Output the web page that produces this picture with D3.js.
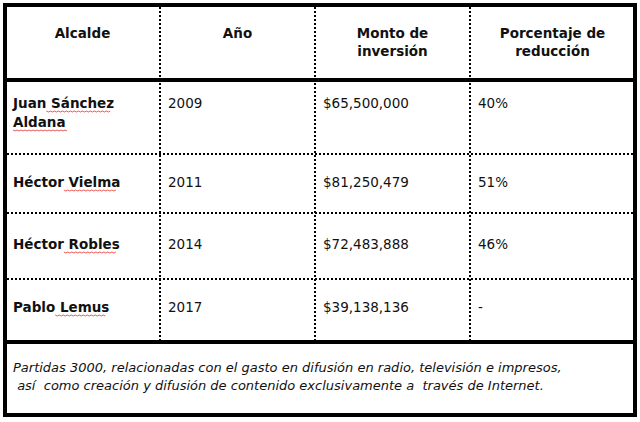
<!DOCTYPE html>
<html lang="es">
<head>
<meta charset="UTF-8">
<script src="https://d3js.org/d3.v7.min.js"></script>
<style>
  body { margin: 0; background: #fff; }
  text { font-family: "DejaVu Sans", Verdana, sans-serif; fill: #111; }
</style>
</head>
<body>
<svg width="640" height="422"></svg>
<script>
const headers = [["Alcalde"], ["Año"], ["Monto de", "inversión"], ["Porcentaje de", "reducción"]];
const alcaldes = [["Juan Sánchez", "Aldana"], ["Héctor Vielma"], ["Héctor Robles"], ["Pablo Lemus"]];
const anios = ["2009", "2011", "2014", "2017"];
const montos = ["$65,500,000", "$81,250,479", "$72,483,888", "$39,138,136"];
const reducciones = ["40%", "51%", "46%", "-"];
const nota = ["Partidas 3000, relacionadas con el gasto en difusión en radio, televisión e impresos,",
              " así  como creación y difusión de contenido exclusivamente a  través de Internet."];
const squiggles = [["Sánchez", "Aldana"], ["Vielma"], ["Robles"], ["Lemus"]];

const svg = d3.select("svg");
const colEdges = [5, 160, 315, 470, 635];
const rowEdges = [5, 80, 154, 213, 279, 342];
const noteBottom = 415;

// outer frame & separators
svg.append("rect").attr("x", 5).attr("y", 5).attr("width", 630).attr("height", noteBottom - 5)
  .attr("fill", "none").attr("stroke", "#000").attr("stroke-width", 4);
[rowEdges[1], rowEdges[5]].forEach(y => svg.append("line").attr("x1", 5).attr("x2", 635)
  .attr("y1", y).attr("y2", y).attr("stroke", "#000").attr("stroke-width", 4));
rowEdges.slice(2, 5).forEach(y => svg.append("line").attr("x1", 7).attr("x2", 633)
  .attr("y1", y).attr("y2", y).attr("stroke", "#000").attr("stroke-width", 2).attr("stroke-dasharray", "2,2"));
colEdges.slice(1, 4).forEach(x => svg.append("line").attr("x1", x).attr("x2", x)
  .attr("y1", 7).attr("y2", rowEdges[5] - 2).attr("stroke", "#000").attr("stroke-width", 2).attr("stroke-dasharray", "2,2"));

// header
headers.forEach((lines, i) => {
  const cx = (colEdges[i] + colEdges[i + 1]) / 2;
  lines.forEach((l, j) => svg.append("text").attr("x", cx).attr("y", 38 + j * 18)
    .attr("text-anchor", "middle").attr("font-size", 13.5).attr("font-weight", "bold").text(l));
});

// rows
const rowTop = [108, 187, 249, 312];
alcaldes.forEach((lines, r) => {
  const base = rowTop[r];
  lines.forEach((l, j) => {
    svg.append("text").attr("x", 13).attr("y", base + j * 19).attr("font-size", 13.5)
      .attr("font-weight", "bold").text(l);
  });
  const cells = [anios[r], montos[r], reducciones[r]];
  cells.forEach((c, k) => svg.append("text").attr("x", colEdges[k + 1] + 8).attr("y", base)
    .attr("font-size", 13.5).text(c));
});

// red spellcheck squiggles measured from the rendered words
alcaldes.forEach((lines, r) => {
  lines.forEach((l, j) => {
    squiggles[r].forEach(w => {
      const idx = l.indexOf(w);
      if (idx < 0) return;
      const t = svg.append("text").attr("font-size", 13.5).attr("font-weight", "bold").attr("x", 0).attr("y", -50);
      t.text(l.slice(0, idx)); const x0 = 13 + t.node().getComputedTextLength();
      t.text(w); const wl = t.node().getComputedTextLength(); t.remove();
      const y = rowTop[r] + j * 19 + 3;
      const pts = d3.range(0, Math.ceil(wl / 2) + 1).map(k => [x0 + k * 2, y + (k % 2)]);
      svg.append("path").attr("d", d3.line()(pts)).attr("fill", "none").attr("stroke", "#e03030").attr("stroke-width", 0.8);
    });
  });
});

// note
nota.forEach((l, j) => svg.append("text").attr("x", 13).attr("y", 372 + j * 18)
  .attr("font-size", 13).attr("font-style", "italic").style("white-space", "pre").text(l));
</script>
</body>
</html>
